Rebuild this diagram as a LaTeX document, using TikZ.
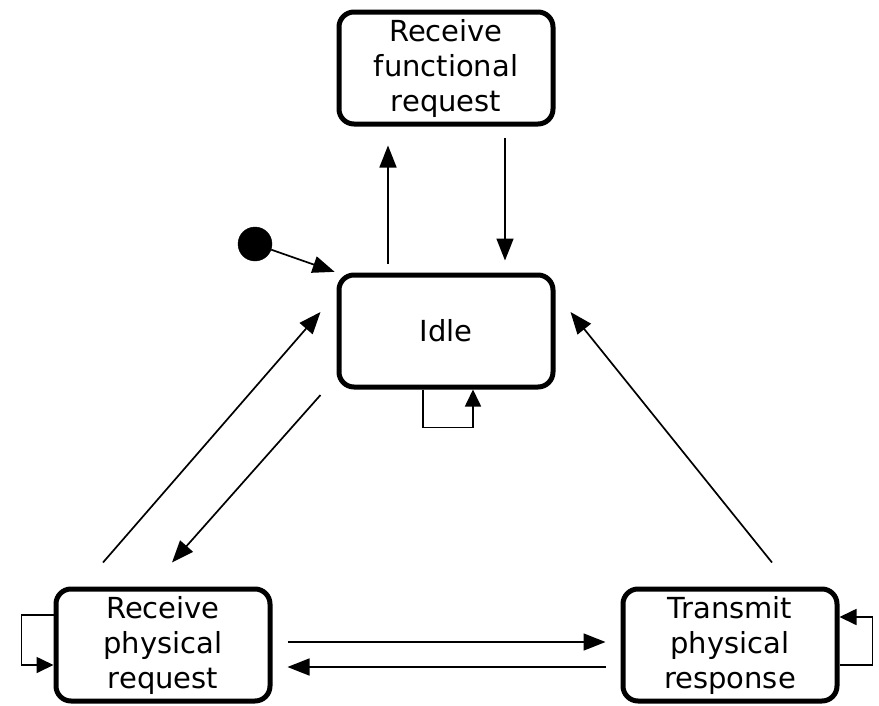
\documentclass[tikz,border=0pt]{standalone}
\usepackage{fontspec}
\setmainfont{DejaVu Sans}
\usetikzlibrary{arrows.meta}

\begin{document}
\begin{tikzpicture}[x=1pt, y=-1pt,
        statebox/.style={draw, line width=5pt, rounded corners=15pt, minimum width=214pt, minimum height=112pt, align=center, font=\fontsize{29}{35}\selectfont},
        arr/.style={line width=1.7pt, -{Triangle[length=22pt, width=17pt]}},
        looparr/.style={line width=1.7pt, -{Triangle[length=17pt, width=16pt]}}]
    \useasboundingbox (0,0) rectangle (879,705);

    \node[statebox] at (446, 68) (recv) {Receive\\functional\\request};
    \node[statebox] at (446, 331) (idle) {Idle};
    \node[statebox] at (163, 645) (physrx) {Receive\\physical\\request};
    \node[statebox] at (730, 645) (phystx) {Transmit\\physical\\response};
    \node[draw, circle, fill, inner sep=0pt, minimum size=34pt] at (255, 244) (init) {};

    \draw[arr, shorten >=2pt] (init) -- (idle.north west);

    \draw[arr] ([shift={(-58,-9)}]idle.north) -- ([shift={(-58,19)}]recv.south);
    \draw[arr] ([shift={(59,11)}]recv.south) -- ([shift={(59,-12)}]idle.north);

    \draw[looparr] ([xshift=-23pt]idle.south) -- ++(0,38) -| ([xshift=27pt]idle.south);

    \draw[arr] ([shift={(-60,-24)}]physrx.north) -- ([shift={(-16,-19)}]idle.west);
    \draw[arr] ([shift={(-16,64)}]idle.west) -- ([shift={(9,-24)}]physrx.north);
    \draw[arr] ([shift={(42,-24)}]phystx.north) -- ([shift={(15,-19)}]idle.east);

    \draw[arr] ([shift={(15,-3)}]physrx.east) -- ([shift={(-15,-3)}]phystx.west);
    \draw[arr] ([shift={(-15,22)}]phystx.west) -- ([shift={(15,22)}]physrx.east);

    \draw[looparr] ([yshift=30pt]physrx.west) -- ++(-32,0) |- ([yshift=-20pt]physrx.west);
    \draw[looparr] ([yshift=-20pt]phystx.east) -- ++(33,0) |- ([yshift=28pt]phystx.east);
\end{tikzpicture}
\end{document}
